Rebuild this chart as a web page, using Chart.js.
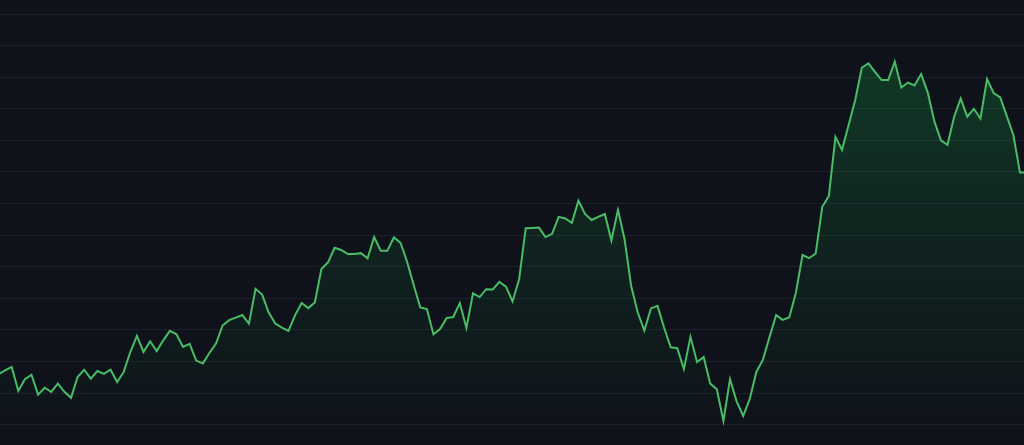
<!DOCTYPE html>
<html>
<head>
<meta charset="utf-8">
<script src="https://cdn.jsdelivr.net/npm/chart.js@4.4.1/dist/chart.umd.min.js"></script>
<style>
  html, body { margin: 0; padding: 0; background: #0f121a; overflow: hidden; }
  #wrap { width: 1024px; height: 445px; }
</style>
</head>
<body>
<div id="wrap"><canvas id="c" width="1024" height="445"></canvas></div>
<script>
// Daily closing values (one per session)
const prices = [
  116.0, 117.2, 118.3, 110.7, 114.4, 115.8, 109.5, 111.7, 110.4, 113.0,
  110.4, 108.5, 115.1, 117.4, 114.6, 117.0, 116.1, 117.4, 113.5, 116.7,
  123.0, 128.1, 123.0, 126.4, 123.3, 126.7, 129.7, 128.6, 124.6, 125.6,
  120.3, 119.4, 122.7, 125.7, 131.4, 133.1, 133.9, 134.7, 132.0, 143.0,
  141.2, 135.5, 132.0, 130.7, 129.7, 134.7, 138.5, 136.9, 138.7, 149.3,
  151.4, 156.0, 155.3, 154.0, 154.0, 154.3, 152.7, 159.4, 155.1, 155.1,
  159.3, 157.6, 151.6, 144.2, 137.1, 136.6, 128.6, 130.3, 133.8, 134.1,
  138.5, 130.6, 141.6, 140.4, 142.9, 142.8, 145.2, 143.7, 139.0, 146.0,
  162.2, 162.3, 162.4, 159.4, 160.4, 165.8, 165.3, 163.9, 170.9, 166.7,
  164.8, 165.8, 166.7, 158.3, 168.0, 158.7, 143.9, 135.5, 129.8, 136.8,
  137.6, 130.7, 124.5, 124.2, 117.6, 127.8, 119.8, 121.4, 113.0, 111.2,
  101.2, 114.4, 107.4, 102.8, 108.2, 116.7, 120.6, 127.8, 134.7, 133.2,
  134.0, 141.8, 153.7, 152.7, 154.2, 169.0, 172.4, 191.1, 187.0, 194.9,
  202.8, 213.0, 214.4, 211.7, 209.1, 209.1, 214.9, 206.7, 208.3, 207.4,
  211.0, 205.2, 196.1, 190.0, 188.6, 197.4, 203.3, 197.5, 200.0, 196.9,
  209.4, 205.0, 203.6, 197.7, 191.7, 179.8, 179.8
];
// Session index for each value
const sessions = prices.map((_, i) => i);
// Horizontal grid levels
const gridLevels = [100, 110, 120, 130, 140, 150, 160, 170, 180, 190, 200, 210, 220, 230];

const ctx = document.getElementById('c').getContext('2d');

new Chart(ctx, {
  type: 'line',
  data: {
    labels: sessions,
    datasets: [{
      data: prices,
      borderColor: '#48bd66',
      borderWidth: 2,
      pointRadius: 0,
      pointHoverRadius: 0,
      tension: 0,
      fill: 'start',
      backgroundColor: (context) => {
        const chart = context.chart;
        const area = chart.chartArea;
        if (!area) return 'rgba(30,170,80,0.2)';
        const g = chart.ctx.createLinearGradient(0, area.top, 0, area.bottom);
        g.addColorStop(0, 'rgba(24,170,76,0.30)');
        g.addColorStop(0.5, 'rgba(24,170,76,0.13)');
        g.addColorStop(1, 'rgba(24,170,76,0.0)');
        return g;
      }
    }]
  },
  options: {
    responsive: false,
    devicePixelRatio: 1,
    animation: false,
    layout: { padding: 0 },
    plugins: {
      legend: { display: false },
      tooltip: { enabled: false }
    },
    scales: {
      x: {
        type: 'linear',
        display: false,
        min: 0.225,
        max: 155.61
      },
      y: {
        type: 'linear',
        min: 93.57,
        max: 234.44,
        border: { display: false },
        grid: {
          color: '#1b1f29',
          lineWidth: 1,
          drawTicks: false
        },
        ticks: { display: false, padding: 0 },
        afterBuildTicks: (scale) => {
          scale.ticks = gridLevels.map(v => ({ value: v }));
        }
      }
    }
  }
});
</script>
</body>
</html>
